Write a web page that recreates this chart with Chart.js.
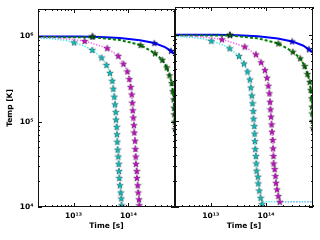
<!DOCTYPE html>
<html>
<head>
<meta charset="utf-8">
<script src="https://cdn.jsdelivr.net/npm/chart.js@4.4.0/dist/chart.umd.min.js"></script>
<style>
html, body { margin: 0; padding: 0; background: #fff; }
#wrap { position: relative; width: 320px; height: 240px; overflow: hidden; }
#left { position: absolute; left: 0; top: 0; width: 176px; height: 240px; }
#right { position: absolute; left: 175px; top: 0; width: 145px; height: 240px; }
</style>
</head>
<body>
<div id="wrap">
  <canvas id="left" width="176" height="240"></canvas>
  <canvas id="right" width="145" height="240"></canvas>
</div>
<script>
// axis ranges and labelled ticks
const timeRange = [2.24e12, 7.08e14];
const tempRange = [1e4, 2.1e6];
const timeLabels = [1e13, 1e14];
const tempLabels = [1e4, 1e5, 1e6];

// stars (time [s], temp [K])
const cyanStarT = [1.02e13, 2.19e13, 3.23e13, 3.98e13, 4.61e13, 5.08e13, 5.30e13, 5.52e13, 5.69e13, 5.86e13, 5.93e13, 6.11e13,
  6.19e13, 6.27e13, 6.37e13, 6.54e13, 6.65e13, 6.73e13, 6.82e13, 7.02e13, 7.23e13, 7.41e13, 7.48e13];
const cyanStarK = [8.5e5, 6.95e5, 5.66e5, 4.63e5, 3.74e5, 3.02e5, 2.44e5, 1.97e5, 1.60e5, 1.30e5, 1.06e5, 8.71e4,
  7.13e4, 5.83e4, 4.71e4, 3.91e4, 3.21e4, 2.64e4, 2.19e4, 1.80e4, 1.48e4, 1.26e4, 1.05e4];
// right panel (with floor): last stars differ
const cyanTailRT = [7.11e13, 7.23e13, 7.54e13, 7.96e13, 8.41e13];
const cyanTailRK = [2.25e4, 1.88e4, 1.55e4, 1.28e4, 1.08e4];

const magStarT = [1.59e13, 4.10e13, 6.54e13, 8.13e13, 9.55e13, 1.04e14, 1.10e14, 1.15e14, 1.18e14, 1.20e14, 1.23e14, 1.26e14,
  1.28e14, 1.32e14, 1.34e14, 1.36e14, 1.37e14, 1.42e14, 1.43e14, 1.48e14, 1.51e14, 1.56e14, 1.58e14];
const magStarK = [8.85e5, 7.29e5, 5.92e5, 4.79e5, 3.89e5, 3.17e5, 2.56e5, 2.09e5, 1.67e5, 1.36e5, 1.12e5, 9.12e4,
  7.48e4, 6.0e4, 4.80e4, 3.91e4, 3.21e4, 2.64e4, 2.19e4, 1.80e4, 1.48e4, 1.23e4, 1.05e4];
const magTailRT = [1.43e14, 1.48e14, 1.51e14, 1.58e14, 1.67e14, 1.77e14];
const magTailRK = [2.76e4, 2.29e4, 1.91e4, 1.60e4, 1.34e4, 1.15e4];

const greenStarT = [2.21e13, 1.67e14, 3.05e14, 4.15e14, 5.0e14, 5.62e14, 6.17e14, 6.43e14, 6.70e14, 6.79e14, 6.87e14, 7.0e14, 7.15e14];
const greenStarK = [1.0e6, 7.94e5, 6.35e5, 5.32e5, 4.34e5, 3.50e5, 2.84e5, 2.28e5, 1.83e5, 1.46e5, 1.22e5, 1.0e5, 8.2e4];

const blueStarT = [2.21e13, 2.97e14, 5.98e14];
const blueStarK = [1.0e6, 8.37e5, 6.78e5];

// curves: start of each curve before its stars, and the end below them
const blueLineT = [2.24e12, 1.31e13, 3.03e13, 7.02e13, 1.63e14, 2.97e14, 4.65e14, 5.98e14, 7.38e14];
const blueLineK = [1.0e6, 1.0e6, 9.84e5, 9.58e5, 9.04e5, 8.37e5, 7.50e5, 6.78e5, 6.05e5];
const greenHeadT = [2.24e12, 2.21e13, 7.02e13];
const greenHeadK = [9.84e5, 9.79e5, 9.08e5];
const greenTailT = [7.38e14];
const greenTailK = [6.86e4];
const magHeadT = [2.24e12, 5.64e12, 1.06e13, 1.59e13, 2.45e13];
const magHeadK = [9.66e5, 9.48e5, 9.16e5, 8.85e5, 8.11e5];
const magTailT = [1.70e14];
const magTailK = [8.75e3];
const cyanHeadT = [2.24e12, 4.57e12, 6.97e12, 1.02e13, 1.55e13];
const cyanHeadK = [9.58e5, 9.33e5, 9.0e5, 8.5e5, 7.74e5];
const cyanTailT = [7.8e13];
const cyanTailK = [8.75e3];
// temperature floor in the right panel
const floorK = 1.15e4;
const cyanFloorT = [8.55e13, 7.5e14];
const magFloorT = [1.85e14, 7.5e14];

const font = { family: 'DejaVu Sans', weight: 'bold', size: 7.5 };
const supDigits = { '0': '⁰', '1': '¹', '2': '²', '3': '³', '4': '⁴', '5': '⁵', '6': '⁶', '7': '⁷', '8': '⁸', '9': '⁹' };
const sup = v => '10' + String(Math.round(Math.log10(v))).split('').map(d => supDigits[d]).join('');

function pts(ts, ks) {
  return ts.map((t, i) => ({ x: t, y: ks[i] }));
}

function starImg(fill) {
  const c = document.createElement('canvas');
  c.width = 8; c.height = 8;
  const g = c.getContext('2d');
  g.beginPath();
  for (let i = 0; i < 10; i++) {
    const r = i % 2 ? 1.45 : 3.5;
    const a = -Math.PI / 2 + i * Math.PI / 5;
    g.lineTo(4 + r * Math.cos(a), 4.3 + r * Math.sin(a));
  }
  g.closePath();
  g.fillStyle = fill;
  g.fill();
  g.strokeStyle = 'rgba(0,0,0,0.6)';
  g.lineWidth = 0.6;
  g.stroke();
  return c;
}

const starCyan = starImg('#00c4c4');
const starMag = starImg('#d000d0');
const starGreen = starImg('#006400');
const starBlue = starImg('#0000ff');

function stars(data, img) {
  return { data, showLine: false, pointStyle: img, pointRadius: 3, pointHoverRadius: 3 };
}
function curve(data, color, width, dash) {
  return { data, borderColor: color, borderWidth: width, borderDash: dash, pointRadius: 0, fill: false, tension: 0 };
}

// minor + major tick values for the inward tick marks
function tickVals(lo, hi) {
  const out = [];
  for (let n = Math.floor(Math.log10(lo)); n <= Math.ceil(Math.log10(hi)); n++) {
    for (let k = 1; k <= 9; k++) {
      const v = k * Math.pow(10, n);
      if (v >= lo * 0.999 && v <= hi * 1.001) out.push({ v, major: k === 1 });
    }
  }
  return out;
}

const frameTicks = {
  id: 'frameTicks',
  afterDatasetsDraw(chart) {
    const { ctx, chartArea: a, scales: { x, y } } = chart;
    ctx.save();
    ctx.strokeStyle = '#111';
    ctx.lineWidth = 1;
    ctx.beginPath();
    tickVals(timeRange[0], timeRange[1]).forEach(t => {
      const px = Math.round(x.getPixelForValue(t.v)) + 0.5;
      const len = t.major ? 4 : 2;
      ctx.moveTo(px, a.bottom); ctx.lineTo(px, a.bottom - len);
      ctx.moveTo(px, a.top); ctx.lineTo(px, a.top + len);
    });
    tickVals(tempRange[0], tempRange[1]).forEach(t => {
      const py = Math.round(y.getPixelForValue(t.v)) + 0.5;
      const len = t.major ? 4 : 2;
      ctx.moveTo(a.left, py); ctx.lineTo(a.left + len, py);
      ctx.moveTo(a.right, py); ctx.lineTo(a.right - len, py);
    });
    ctx.stroke();
    ctx.strokeRect(a.left + 0.5, a.top + 0.5, a.right - a.left - 1, a.bottom - a.top - 1);
    ctx.restore();
  }
};

function makeChart(id, datasets, showY, padding) {
  return new Chart(document.getElementById(id), {
    type: 'line',
    data: { datasets },
    plugins: [frameTicks],
    options: {
      responsive: false,
      animation: false,
      events: [],
      layout: { padding, autoPadding: false },
      plugins: { legend: { display: false }, tooltip: { enabled: false } },
      scales: {
        x: {
          type: 'logarithmic',
          min: timeRange[0],
          max: timeRange[1],
          grid: { display: false, drawTicks: false },
          border: { display: false },
          afterBuildTicks: s => { s.ticks = timeLabels.map(v => ({ value: v })); },
          afterFit: s => { s.height = 33; },
          ticks: { callback: v => sup(v), font, color: '#000', padding: 4.5, maxRotation: 0, autoSkip: false },
          title: { display: true, text: 'Time [s]', font, color: '#000', padding: { top: 0, bottom: 9 } }
        },
        y: {
          type: 'logarithmic',
          display: showY,
          min: tempRange[0],
          max: tempRange[1],
          grid: { display: false, drawTicks: false },
          border: { display: false },
          afterBuildTicks: s => { s.ticks = tempLabels.map(v => ({ value: v })); },
          afterFit: s => { s.width = showY ? 38 : 0; },
          ticks: { callback: v => sup(v), font, color: '#000', padding: 4.5, autoSkip: false },
          title: { display: true, text: 'Temp [K]', font, color: '#000', padding: { top: 5.5, bottom: 0 } }
        }
      }
    }
  });
}

// left panel: no temperature floor
const leftSets = [
  stars(pts(cyanStarT, cyanStarK), starCyan),
  stars(pts(magStarT, magStarK), starMag),
  stars(pts(greenStarT, greenStarK), starGreen),
  stars(pts(blueStarT, blueStarK), starBlue),
  curve(pts(cyanHeadT.concat(cyanStarT.slice(1), cyanTailT), cyanHeadK.concat(cyanStarK.slice(1), cyanTailK)), '#33eeee', 1.5, [1.2, 1.6]),
  curve(pts(magHeadT.concat(magStarT.slice(1), magTailT), magHeadK.concat(magStarK.slice(1), magTailK)), '#ff55ff', 1.5, [1.2, 1.6]),
  curve(pts(greenHeadT.concat(greenStarT.slice(1), greenTailT), greenHeadK.concat(greenStarK.slice(1), greenTailK)), '#008000', 2, [3, 2]),
  curve(pts(blueLineT, blueLineK), '#0000ff', 2, [])
];

// right panel: cyan and magenta stop at the floor
const cyanRT = cyanStarT.slice(0, 18).concat(cyanTailRT);
const cyanRK = cyanStarK.slice(0, 18).concat(cyanTailRK);
const magRT = magStarT.slice(0, 17).concat(magTailRT);
const magRK = magStarK.slice(0, 17).concat(magTailRK);

const rightSets = [
  stars(pts(cyanRT, cyanRK), starCyan),
  stars(pts(magRT, magRK), starMag),
  stars(pts(greenStarT, greenStarK), starGreen),
  stars(pts(blueStarT, blueStarK), starBlue),
  curve(pts(cyanHeadT.concat(cyanRT.slice(1, -1), cyanFloorT), cyanHeadK.concat(cyanRK.slice(1, -1), cyanFloorT.map(() => floorK))), '#33eeee', 1.5, [1.2, 1.6]),
  curve(pts(magHeadT.concat(magRT.slice(1), magFloorT), magHeadK.concat(magRK.slice(1), magFloorT.map(() => floorK))), '#ff55ff', 1.5, [1.2, 1.6]),
  curve(pts(greenHeadT.concat(greenStarT.slice(1), greenTailT), greenHeadK.concat(greenStarK.slice(1), greenTailK)), '#008000', 2, [3, 2]),
  curve(pts(blueLineT, blueLineK), '#0000ff', 2, [])
];

makeChart('left', leftSets, true, { top: 7, right: 1, left: 0, bottom: 0 });
makeChart('right', rightSets, false, { top: 7, right: 7, left: 0, bottom: 0 });
</script>
</body>
</html>
